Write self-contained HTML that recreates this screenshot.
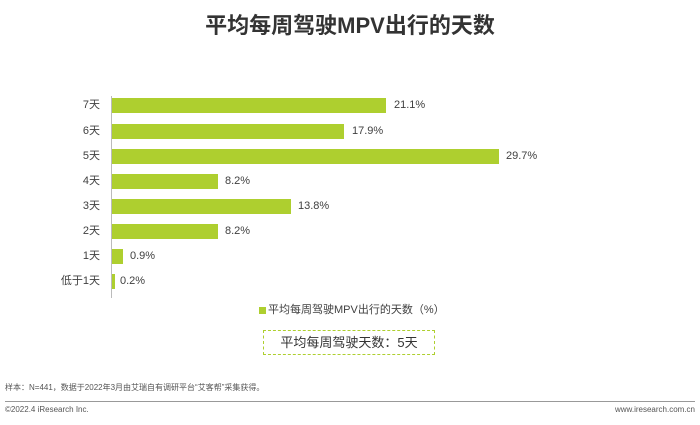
<!DOCTYPE html>
<html><head><meta charset="utf-8"><style>
body{margin:0;width:700px;height:425px;background:#fff;position:relative;overflow:hidden;font-family:"Liberation Sans","Noto Sans CJK SC",sans-serif;color:#404040}
.a{position:absolute;white-space:nowrap}
.bar{position:absolute;left:112px;height:15px;background:#aecf2f}
.lab{position:absolute;right:600px;font-size:11px;line-height:15px;text-align:right}
.val{position:absolute;font-size:11px;line-height:15px}
</style></head><body>
<div class="a" style="left:0;width:700px;top:8px;text-align:center;font-size:22px;font-weight:bold;color:#333">平均每周驾驶MPV出行的天数</div>
<div class="a" style="left:111px;top:96px;width:1px;height:202px;background:#bbb"></div>

<div class="lab" style="top:98px">7天</div><div class="bar" style="top:98px;width:274px"></div><div class="val" style="left:394px;top:98px">21.1%</div>
<div class="lab" style="top:124px">6天</div><div class="bar" style="top:124px;width:232px"></div><div class="val" style="left:352px;top:124px">17.9%</div>
<div class="lab" style="top:149px">5天</div><div class="bar" style="top:149px;width:387px"></div><div class="val" style="left:506px;top:149px">29.7%</div>
<div class="lab" style="top:174px">4天</div><div class="bar" style="top:174px;width:106px"></div><div class="val" style="left:225px;top:174px">8.2%</div>
<div class="lab" style="top:199px">3天</div><div class="bar" style="top:199px;width:179px"></div><div class="val" style="left:298px;top:199px">13.8%</div>
<div class="lab" style="top:224px">2天</div><div class="bar" style="top:224px;width:106px"></div><div class="val" style="left:225px;top:224px">8.2%</div>
<div class="lab" style="top:249px">1天</div><div class="bar" style="top:249px;width:11px"></div><div class="val" style="left:130px;top:249px">0.9%</div>
<div class="lab" style="top:274px">低于1天</div><div class="bar" style="top:274px;width:3px"></div><div class="val" style="left:120px;top:274px">0.2%</div>

<div class="a" style="left:259px;top:307px;width:7px;height:7px;background:#aecf2f"></div>
<div class="a" style="left:268px;top:303px;font-size:11px;line-height:15px">平均每周驾驶MPV出行的天数（%）</div>
<div class="a" style="left:263px;top:330px;width:170px;height:23px;border:1px dashed #aecf2f;text-align:center;font-size:13px;line-height:23px;color:#333">平均每周驾驶天数：5天</div>

<div class="a" style="left:5px;top:382px;font-size:8px;color:#555">样本：N=441，数据于2022年3月由艾瑞自有调研平台“艾客帮”采集获得。</div>
<div class="a" style="left:5px;top:401px;width:690px;height:1px;background:#999"></div>
<div class="a" style="left:5px;top:405px;font-size:8px;color:#555">©2022.4 iResearch Inc.</div>
<div class="a" style="right:5px;top:405px;font-size:8px;color:#555">www.iresearch.com.cn</div>
</body></html>
